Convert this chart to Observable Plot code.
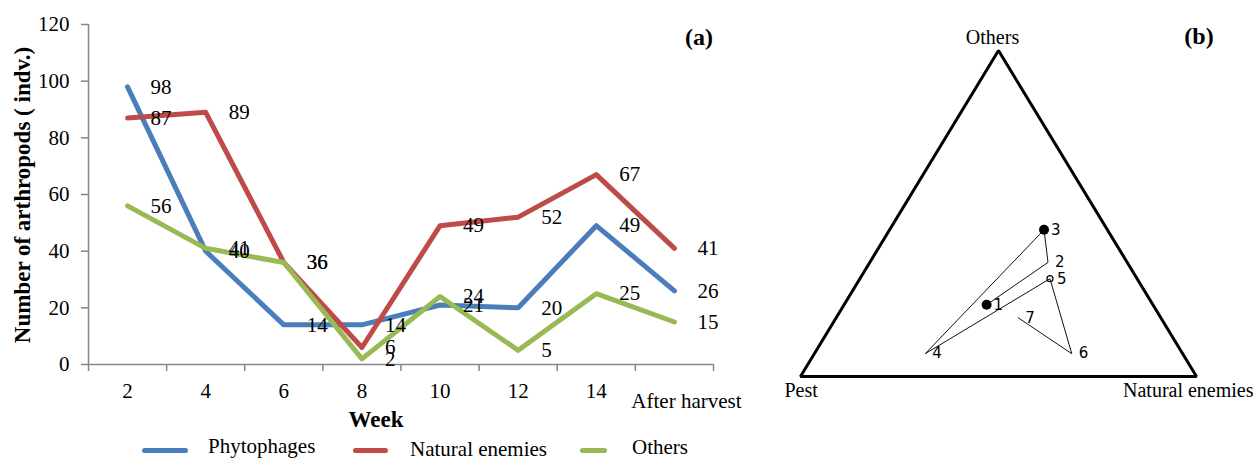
<!DOCTYPE html>
<html>
<head>
<meta charset="utf-8">
<script src="https://cdn.jsdelivr.net/npm/d3@7"></script>
<script src="https://cdn.jsdelivr.net/npm/@observablehq/plot@0.6"></script>
<style>
  html, body { margin: 0; padding: 0; background: #fff; }
  #wrap { position: relative; width: 1255px; height: 461px; overflow: hidden; font-family: "Liberation Serif", serif; color: #000; }
  .abs { position: absolute; white-space: nowrap; }
  .c { transform: translate(-50%, -50%); }
  .lm { transform: translateY(-50%); }
  .sw { position: absolute; height: 5px; border-radius: 3px; }
</style>
</head>
<body>
<div id="wrap">
  <div id="left" class="abs" style="left:0;top:0;"></div>
  <div id="right" class="abs" style="left:780px;top:0;"></div>
</div>
<script>
// ---- Panel (a) data ----
const weeks = ["2", "4", "6", "8", "10", "12", "14", "After harvest"];
const phytophages = [98, 40, 14, 14, 21, 20, 49, 26];
const naturalEnemies = [87, 89, 36, 6, 49, 52, 67, 41];
const others = [56, 41, 36, 2, 24, 5, 25, 15];
const yTicks = [0, 20, 40, 60, 80, 100, 120];
const seriesNames = ["Phytophages", "Natural enemies", "Others"];
const seriesColors = ["#4A7EBB", "#BE4B48", "#98B954"];

// ---- Panel (b) data (ternary composition, %) ----
const ternWeeks = ["1", "2", "3", "4", "5", "6", "7"];
const ternPest = [42, 20, 16, 65, 22, 28, 36];
const ternNatural = [36, 45, 39, 28, 48, 65, 46];
const ternOthers = [22, 35, 45, 7, 30, 7, 18];
const vertexNames = ["Pest", "Natural enemies", "Others"];
const vertexPest = [100, 0, 0];
const vertexNatural = [0, 100, 0];
const vertexOthers = [0, 0, 100];
const filledWeeks = ["1", "3"];
const openWeeks = ["5"];

const axisGray = "#868686";
const seriesValues = [phytophages, naturalEnemies, others];
const rows = seriesNames.flatMap((s, k) =>
  seriesValues[k].map((v, i) => ({series: s, i, week: weeks[i], value: v})));
const boundaries = d3.range(weeks.length + 1).map(i => i - 0.5);
const n = weeks.length;

const left = Plot.plot({
  width: 760, height: 425,
  marginLeft: 88, marginRight: 47, marginTop: 24, marginBottom: 61,
  x: {type: "linear", domain: [-0.5, n - 0.5]},
  y: {domain: [0, 120]},
  color: {domain: seriesNames, range: seriesColors},
  style: {fontFamily: "'Liberation Serif', serif", fontSize: "21px", background: "transparent", overflow: "visible", color: "#000"},
  marks: [
    Plot.ruleX([-0.5], {y1: 0, y2: 120, stroke: axisGray, strokeWidth: 1.5}),
    Plot.ruleY([0], {x1: -0.5, x2: n - 0.5, stroke: axisGray, strokeWidth: 1.5}),
    Plot.axisY({ticks: yTicks, tickSize: 7, tickPadding: 12, stroke: axisGray, fill: "black", strokeWidth: 1.5, label: null}),
    Plot.axisX({ticks: boundaries, tickSize: 7, tickFormat: () => "", stroke: axisGray, strokeWidth: 1.5, label: null}),
    Plot.axisX({ticks: d3.range(n - 1), tickSize: 0, tickPadding: 19, tickFormat: i => weeks[i], fill: "black", label: null}),
    Plot.axisX({ticks: [n - 1], tickSize: 0, tickPadding: 29, dx: 12, tickFormat: i => weeks[i], fill: "black", label: null}),
    Plot.line(rows, {x: "i", y: "value", z: "series", stroke: "series", strokeWidth: 5, strokeLinejoin: "round", strokeLinecap: "round"}),
    Plot.text(rows, {x: "i", y: "value", text: d => String(d.value), dx: 23, textAnchor: "start", fill: "black"})
  ]
});
document.getElementById("left").appendChild(left);

// ternary projection
const proj = (p, nat, o) => ({X: (nat + o / 2) / 100, Y: o / 100});
const tern = ternWeeks.map((w, k) => ({week: w, ...proj(ternPest[k], ternNatural[k], ternOthers[k])}));
const verts = vertexNames.map((name, k) => ({name, ...proj(vertexPest[k], vertexNatural[k], vertexOthers[k])}));

const right = Plot.plot({
  width: 475, height: 461,
  marginLeft: 20, marginRight: 59, marginTop: 50, marginBottom: 85,
  x: {domain: [0, 1], axis: null},
  y: {domain: [0, 1], axis: null},
  style: {fontFamily: "'Liberation Serif', serif", fontSize: "20px", background: "transparent", overflow: "visible", color: "#000"},
  marks: [
    Plot.line(verts, {x: "X", y: "Y", curve: "linear-closed", stroke: "black", strokeWidth: 3, strokeLinejoin: "miter"}),
    Plot.line(tern, {x: "X", y: "Y", stroke: "#111", strokeWidth: 1}),
    Plot.dot(tern.filter(d => filledWeeks.includes(d.week)), {x: "X", y: "Y", r: 5, fill: "black"}),
    Plot.dot(tern.filter(d => openWeeks.includes(d.week)), {x: "X", y: "Y", r: 3, stroke: "black", fill: "none", strokeWidth: 1.2}),
    Plot.text(tern, {x: "X", y: "Y", text: "week", dx: 7, textAnchor: "start", fontFamily: "'DejaVu Sans', sans-serif", fontSize: 15, fill: "black"}),
    Plot.text(verts.filter(d => d.name === "Pest"), {x: "X", y: "Y", text: "name", dx: -16, dy: 14, textAnchor: "start", fill: "black"}),
    Plot.text(verts.filter(d => d.name === "Natural enemies"), {x: "X", y: "Y", text: "name", dx: 57, dy: 14, textAnchor: "end", fill: "black"}),
    Plot.text(verts.filter(d => d.name === "Others"), {x: "X", y: "Y", text: "name", dx: -6, dy: -13, textAnchor: "middle", fill: "black"})
  ]
});
document.getElementById("right").appendChild(right);

// titles, labels and legend (HTML text)
const wrap = document.getElementById("wrap");
function addText(txt, x, y, css, cls) {
  const d = document.createElement("div");
  d.className = "abs " + cls;
  d.style.left = x + "px"; d.style.top = y + "px";
  d.style.cssText += css;
  d.textContent = txt;
  wrap.appendChild(d);
}
const yt = document.createElement("div");
yt.className = "abs";
yt.style.cssText = "left:23px;top:195px;transform:translate(-50%,-50%) rotate(-90deg);font-weight:bold;font-size:23px;";
yt.textContent = "Number of arthropods ( indv.)";
wrap.appendChild(yt);
addText("Week", 376, 420, "font-weight:bold;font-size:23px;", "c");
addText("(a)", 699, 37, "font-weight:bold;font-size:24px;", "c");
addText("(b)", 1199, 36, "font-weight:bold;font-size:24px;", "c");

const legendItems = [
  {x: 142, w: 46, tx: 208, ty: 446},
  {x: 353, w: 35, tx: 410, ty: 449},
  {x: 580, w: 27, tx: 632, ty: 447}
];
seriesNames.forEach((s, k) => {
  const it = legendItems[k];
  const sw = document.createElement("div");
  sw.className = "sw";
  sw.style.left = it.x + "px"; sw.style.top = "448px"; sw.style.width = it.w + "px";
  sw.style.background = seriesColors[k];
  wrap.appendChild(sw);
  addText(s, it.tx, it.ty, "font-size:21px;line-height:22px;", "lm");
});
</script>
</body>
</html>
